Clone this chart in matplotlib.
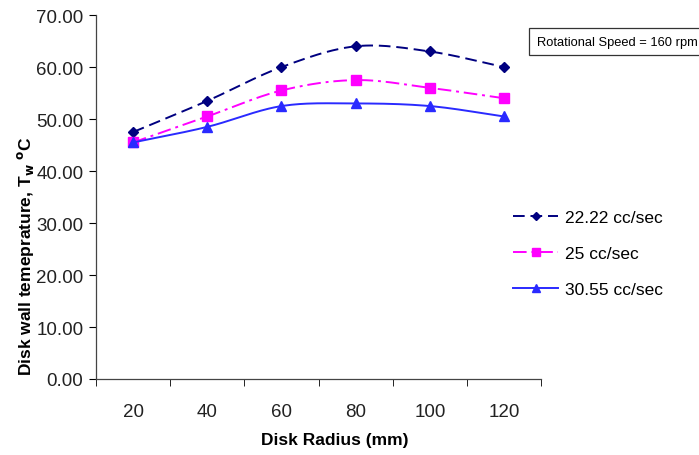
import numpy as np
import matplotlib
matplotlib.use("Agg")
from matplotlib import pyplot as plt

# data
radius = [20, 40, 60, 80, 100, 120]
flow_labels = ["22.22 cc/sec", "25 cc/sec", "30.55 cc/sec"]
temp_2222 = [47.5, 53.5, 60.0, 64.0, 63.0, 60.0]
temp_25 = [45.5, 50.5, 55.5, 57.5, 56.0, 54.0]
temp_3055 = [45.5, 48.5, 52.5, 53.0, 52.5, 50.5]

plt.rcParams['font.family'] = ['Liberation Sans', 'DejaVu Sans']


def smooth(x, y, n=30):
    # Excel-like smoothed line (Catmull-Rom through the points)
    x = np.asarray(x, float); y = np.asarray(y, float)
    px = np.r_[2*x[0]-x[1], x, 2*x[-1]-x[-2]]
    py = np.r_[2*y[0]-y[1], y, 2*y[-1]-y[-2]]
    xs, ys = [], []
    for i in range(1, len(px)-2):
        t = np.linspace(0, 1, n)
        for p, out in ((px, xs), (py, ys)):
            p0, p1, p2, p3 = p[i-1], p[i], p[i+1], p[i+2]
            out.extend(0.5*((2*p1) + (-p0+p2)*t + (2*p0-5*p1+4*p2-p3)*t**2
                            + (-p0+3*p1-3*p2+p3)*t**3))
    return np.array(xs), np.array(ys)


fig = plt.figure(figsize=(6.99, 4.56), dpi=100)
ax = fig.add_axes([0.1373, 0.1667, 0.637, 0.798])

pos = np.arange(len(radius))
styles = [
    (temp_2222, '#000080', (0, (6, 3)), 'D', 5),
    (temp_25, '#FF00FF', (0, (7, 2.5, 1.5, 2.5)), 's', 6.5),
    (temp_3055, '#2A2AFF', '-', '^', 7),
]
for (vals, col, ls, mk, ms), lab in zip(styles, flow_labels):
    sx, sy = smooth(pos, vals)
    ax.plot(sx, sy, color=col, linestyle=ls, lw=1.4)
    ax.plot(pos, vals, linestyle='none', marker=mk, color=col, ms=ms)
    ax.plot([], [], color=col, linestyle=ls, lw=1.4, marker=mk, ms=ms*0.8, label=lab)

ax.set_xlim(-0.5, len(radius)-0.5)
ax.set_ylim(0, 70)
ax.set_yticks(np.arange(0, 71, 10))
ax.set_yticklabels(['%.2f' % v for v in np.arange(0, 71, 10)])
ax.set_xticks(pos)
ax.set_xticklabels([str(r) for r in radius])
ax.set_xticks(np.arange(-0.5, len(radius), 1), minor=True)
ax.tick_params(axis='x', which='major', length=0, pad=17)
ax.tick_params(axis='x', which='minor', length=5, direction='out')
ax.tick_params(axis='y', length=5, direction='out', pad=4)
ax.tick_params(labelsize=13.5, labelcolor='#222222')
for s in ['top', 'right']:
    ax.spines[s].set_visible(False)
for s in ['left', 'bottom']:
    ax.spines[s].set_color('#444444')
    ax.spines[s].set_linewidth(0.9)

ax.set_xlabel('Disk Radius (mm)', fontsize=12.5, fontweight='bold')
ax.xaxis.set_label_coords(0.536, -0.145)
ax.set_ylabel(r'Disk wall temeprature, T$_\mathbf{w}$ $^\mathbf{o}$C', fontsize=12.5,
              fontweight='bold')
ax.yaxis.set_label_coords(-0.135, 0.34)

fig.legend(loc='upper left', bbox_to_anchor=(0.712, 0.572), frameon=False,
           handlelength=2.6, labelspacing=1.2, handletextpad=0.4,
           prop={'size': 12.5})

fig.text(0.768, 0.9, 'Rotational Speed = 160 rpm', fontsize=9.3,
         bbox=dict(boxstyle='square,pad=0.6', fc='white', ec='#333333', lw=0.9))

fig.savefig('out.png', dpi=100)
